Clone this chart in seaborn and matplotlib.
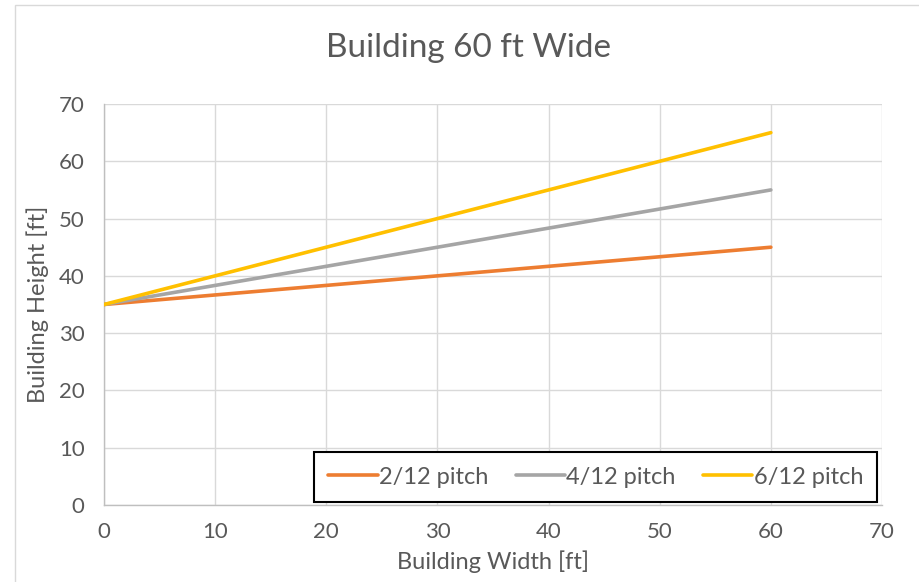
import matplotlib
matplotlib.use("Agg")
import matplotlib.pyplot as plt
import matplotlib.patches as mpatches
import pandas as pd
import seaborn as sns

# Roof height across the building width for three pitches
width_ft = [0, 60]
pitch_2_12 = [35, 45]
pitch_4_12 = [35, 55]
pitch_6_12 = [35, 65]
series_names = ["2/12 pitch", "4/12 pitch", "6/12 pitch"]
series_colors = ["#ED7D31", "#A5A5A5", "#FFC000"]
x_ticks = [0, 10, 20, 30, 40, 50, 60, 70]
y_ticks = [0, 10, 20, 30, 40, 50, 60, 70]

rows = []
for name, values in zip(series_names, [pitch_2_12, pitch_4_12, pitch_6_12]):
    for x, y in zip(width_ft, values):
        rows.append({"Building Width [ft]": x, "Building Height [ft]": y, "Series": name})
df = pd.DataFrame(rows)

sns.set_theme(style="white")
plt.rcParams["font.family"] = ["Lato", "DejaVu Sans"]

text_color = "#595959"
grid_color = "#D9D9D9"

fig = plt.figure(figsize=(9.19, 5.82), dpi=100)
fig.patch.set_facecolor("white")

# Light outer chart border
fig.patches.append(mpatches.Rectangle((15 / 919, -0.05), 1.1, 1 - 5 / 582 + 0.05,
                                      transform=fig.transFigure, fill=False,
                                      edgecolor="#D9D9D9", linewidth=1.0))

ax = fig.add_axes([104 / 919, 1 - 505 / 582, 778 / 919, 401 / 582])

sns.lineplot(data=df, x="Building Width [ft]", y="Building Height [ft]", hue="Series",
             palette=dict(zip(series_names, series_colors)), linewidth=2.6,
             ax=ax, legend=True, zorder=3)

ax.set_xlim(0, 70)
ax.set_ylim(0, 70)
ax.set_xticks(x_ticks)
ax.set_yticks(y_ticks)
ax.grid(True, color=grid_color, linewidth=1.0)
ax.set_axisbelow(True)
for side in ["top", "right"]:
    ax.spines[side].set_visible(False)
for side in ["left", "bottom"]:
    ax.spines[side].set_color("#BFBFBF")
    ax.spines[side].set_linewidth(1.0)
ax.tick_params(axis="x", length=0, labelsize=16, labelcolor=text_color, pad=12)
ax.tick_params(axis="y", length=0, labelsize=16, labelcolor=text_color, pad=14)

ax.set_xlabel("Building Width [ft]", fontsize=17, color=text_color, labelpad=6)
ax.set_ylabel("Building Height [ft]", fontsize=17, color=text_color, labelpad=7)
fig.text(468 / 919, 1 - 48 / 582, "Building 60 ft Wide", ha="center", va="center",
         fontsize=24, color=text_color)

handles, labels = ax.get_legend_handles_labels()
leg = ax.legend(handles, labels, loc="center", bbox_to_anchor=(0.632, 0.0698),
                ncol=3, fontsize=17, frameon=True, fancybox=False,
                handlelength=2.1, handletextpad=0.05, columnspacing=1.15,
                borderpad=0.6, labelcolor=text_color)
leg.get_frame().set_edgecolor("black")
leg.get_frame().set_linewidth(1.5)
leg.get_frame().set_facecolor("white")
leg.get_frame().set_alpha(1.0)

fig.savefig("out.png", dpi=100)
